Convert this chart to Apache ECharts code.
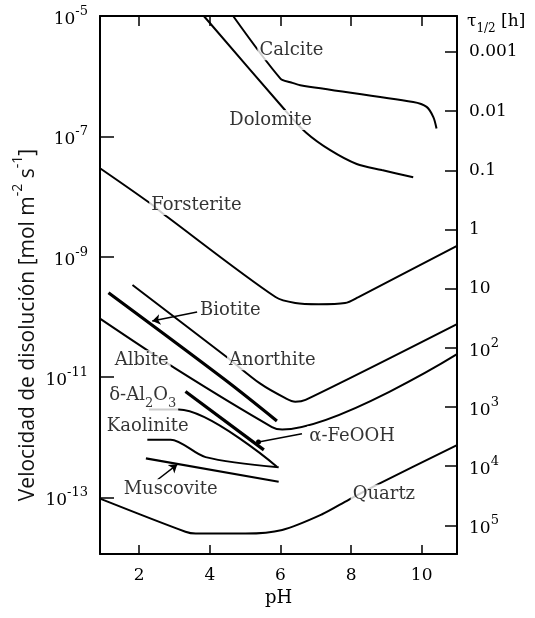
<!DOCTYPE html>
<html>
<head>
<meta charset="utf-8">
<title>Velocidad de disolución vs pH</title>
<script src="https://cdn.jsdelivr.net/npm/echarts@6.0.0/dist/echarts.min.js"></script>
<style>
html, body { margin: 0; padding: 0; background: #fff; }
#chart { width: 535px; height: 618px; }
</style>
</head>
<body>
<div id="chart"></div>
<script>
// curves: [pH, log10(rate / mol m-2 s-1)]
var calcite = [[4.66, -5.0], [6.0, -6.04], [6.28, -6.10], [6.56, -6.15], [9.76, -6.43], [10.14, -6.51], [10.33, -6.68], [10.42, -6.87]];
var dolomite = [[3.83, -5.0], [6.14, -6.57], [6.73, -6.94], [7.41, -7.23], [8.16, -7.46], [8.87, -7.56], [9.76, -7.68]];
var forsterite = [[0.89, -7.53], [2.28, -8.10], [2.80, -8.34], [5.86, -9.67], [6.42, -9.77], [7.08, -9.79], [7.83, -9.77], [8.21, -9.67], [11.0, -8.82]];
var biotite = [[1.13, -9.60], [4.44, -11.05], [5.90, -11.73]];
var anorthite = [[1.81, -9.47], [4.44, -10.65], [5.43, -11.11], [6.14, -11.35], [6.42, -11.41], [6.71, -11.38], [11.0, -10.12]];
var albite = [[0.89, -10.03], [3.03, -10.86], [5.76, -11.83], [6.05, -11.87], [11.0, -10.62]];
var alphaFeOOH = [[3.31, -11.24], [5.53, -12.21]];
var deltaAl2O3 = [[2.28, -11.54], [3.12, -11.54], [5.90, -12.49]];
var kaolinite = [[2.23, -12.04], [2.89, -12.04], [3.88, -12.33], [5.95, -12.50]];
var muscovite = [[2.19, -12.35], [5.95, -12.74]];
var quartz = [[0.89, -13.02], [3.31, -13.57], [3.60, -13.60], [5.01, -13.60], [6.05, -13.54], [7.18, -13.28], [7.93, -13.04], [8.77, -12.78], [11.0, -12.13]];

// text labels placed in data space
var labelNames = ['Calcite', 'Dolomite', 'Forsterite', 'Biotite', 'Albite', 'Anorthite', '{a|δ-Al}{d|2}{a|O}{d|3}', 'α-FeOOH', 'Kaolinite', 'Muscovite', 'Quartz'];
var labelAt = [[6.31, -5.57], [5.72, -6.73], [3.62, -8.14], [4.58, -9.89], [2.07, -10.72], [5.77, -10.72], [2.10, -11.35], [8.03, -11.98], [2.24, -11.82], [2.89, -12.86], [8.93, -12.95]];

// pointer lines [from, to]
var arrows = [[[3.64, -9.92], [2.37, -10.07]], [[2.51, -12.71], [3.08, -12.45]]];
var dotLines = [[[6.61, -11.94], [5.38, -12.08]]];

var phTicks = [2, 4, 6, 8, 10];
var rateTicks = [-13, -11, -9, -7, -5];
var tauTicks = [-3, -2, -1, 0, 1, 2, 3, 4, 5];
var tauLabels = ['0.001', '0.01', '0.1', '1', '10', '{b|10}{s|2}', '{b|10}{s|3}', '{b|10}{s|4}', '{b|10}{s|5}'];

var ink = '#000';
var serif = 'DejaVu Serif';

var supRich = {
	b: { fontFamily: serif, fontSize: 17, color: ink, lineHeight: 24, verticalAlign: 'bottom' },
	s: { fontFamily: serif, fontSize: 13, color: ink, lineHeight: 24, verticalAlign: 'top', padding: [1, 0, 0, 0] }
};

function curve(name, pts, width) {
	return {
		type: 'line',
		name: name,
		data: pts,
		symbol: 'none',
		smooth: 0.3,
		silent: true,
		lineStyle: { color: ink, width: width || 2 },
		z: 2
	};
}

var chart = echarts.init(document.getElementById('chart'));

var option = {
	animation: false,
	backgroundColor: '#fff',
	grid: { left: 100, top: 16, right: 78, bottom: 64 },
	xAxis: [{
		type: 'value', min: 0.89, max: 11,
		name: 'pH', nameLocation: 'middle', nameGap: 34,
		nameTextStyle: { fontFamily: serif, fontSize: 18, color: ink },
		axisLine: { show: true, onZero: false, lineStyle: { color: ink, width: 2 } },
		axisTick: { inside: true, length: 9, customValues: phTicks, lineStyle: { color: ink, width: 1.5 } },
		axisLabel: { customValues: phTicks, margin: 13, fontFamily: serif, fontSize: 17, color: ink },
		splitLine: { show: false }
	}, {
		type: 'value', min: 0.89, max: 11, position: 'top',
		axisLine: { show: true, onZero: false, lineStyle: { color: ink, width: 2 } },
		axisTick: { inside: true, length: 10, customValues: phTicks, lineStyle: { color: ink, width: 1.5 } },
		axisLabel: { show: false },
		splitLine: { show: false }
	}],
	yAxis: [{
		type: 'value', min: -13.94, max: -5,
		axisLine: { show: true, onZero: false, lineStyle: { color: ink, width: 2 } },
		axisTick: { inside: true, length: 14, customValues: rateTicks, lineStyle: { color: ink, width: 1.5 } },
		axisLabel: {
			customValues: rateTicks, margin: 12,
			formatter: function (v) { return '{b|10}{s|-' + Math.abs(v) + '}'; },
			rich: supRich
		},
		splitLine: { show: false }
	}, {
		type: 'value', min: -3.608, max: 5.485, inverse: true, position: 'right',
		axisLine: { show: true, onZero: false, lineStyle: { color: ink, width: 2 } },
		axisTick: { inside: true, length: 12, customValues: tauTicks, lineStyle: { color: ink, width: 1.5 } },
		axisLabel: {
			customValues: tauTicks, margin: 12,
			fontFamily: serif, fontSize: 17, color: ink,
			formatter: function (v) { return tauLabels[tauTicks.indexOf(Math.round(v))]; },
			rich: supRich
		},
		splitLine: { show: false }
	}],
	graphic: [{
		type: 'text', x: 25, y: 325, rotation: Math.PI / 2,
		style: {
			text: '{t|Velocidad de disolución [mol m}{u|-2}{t| s}{u|-1}{t|]}',
			align: 'center', verticalAlign: 'middle',
			rich: {
				t: { fontFamily: 'Open Sans', fontSize: 21, fill: '#111', lineHeight: 28, verticalAlign: 'bottom' },
				u: { fontFamily: 'Open Sans', fontSize: 14, fill: '#111', lineHeight: 28, verticalAlign: 'top' }
			}
		}
	}, {
		type: 'text', x: 467, y: 24,
		style: {
			text: '{t|τ}{d|1/2}{t| [h]}',
			align: 'left', verticalAlign: 'middle',
			rich: {
				t: { fontFamily: serif, fontSize: 17, fill: ink, lineHeight: 22, verticalAlign: 'top' },
				d: { fontFamily: serif, fontSize: 12, fill: ink, lineHeight: 22, verticalAlign: 'bottom' }
			}
		}
	}],
	series: [
		curve('Calcite', calcite),
		curve('Dolomite', dolomite),
		curve('Forsterite', forsterite),
		curve('Biotite', biotite, 3.2),
		curve('Anorthite', anorthite),
		curve('Albite', albite),
		curve('α-FeOOH', alphaFeOOH, 3.2),
		curve('δ-Al2O3', deltaAl2O3),
		curve('Kaolinite', kaolinite),
		curve('Muscovite', muscovite, 2.2),
		curve('Quartz', quartz),
		{
			type: 'lines', coordinateSystem: 'cartesian2d', silent: true, z: 3,
			symbol: ['none', 'arrow'], symbolSize: 8,
			lineStyle: { color: ink, width: 1.5, opacity: 1 },
			data: arrows.map(function (a) { return { coords: a }; })
		},
		{
			type: 'lines', coordinateSystem: 'cartesian2d', silent: true, z: 3,
			symbol: ['none', 'circle'], symbolSize: 5,
			lineStyle: { color: ink, width: 1.5, opacity: 1 },
			data: dotLines.map(function (a) { return { coords: a }; })
		},
		{
			type: 'scatter', silent: true, z: 5,
			symbolSize: 1, itemStyle: { color: 'rgba(0,0,0,0)' },
			label: {
				show: true, position: 'inside',
				fontFamily: serif, fontSize: 18, color: ink,
				backgroundColor: '#fff', padding: [1, 2],
				rich: {
					a: { fontFamily: serif, fontSize: 18, color: ink, lineHeight: 24, verticalAlign: 'top' },
					d: { fontFamily: serif, fontSize: 13, color: ink, lineHeight: 24, verticalAlign: 'bottom' }
				}
			},
			data: labelNames.map(function (n, i) {
				return { value: labelAt[i], label: { formatter: n } };
			})
		}
	]
};

chart.setOption(option);
</script>
</body>
</html>
